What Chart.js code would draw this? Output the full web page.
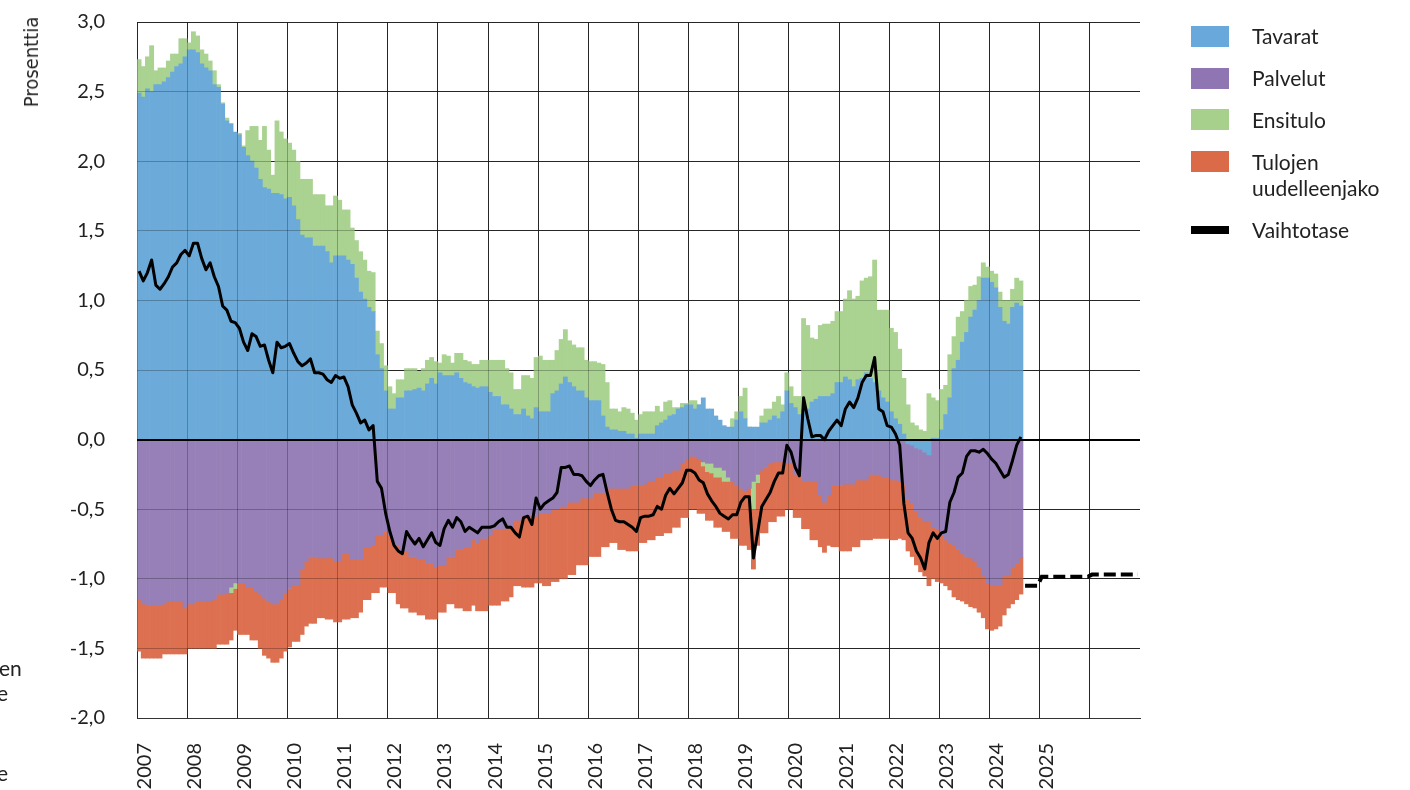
<!DOCTYPE html>
<html><head><meta charset="utf-8">
<script src="https://cdn.jsdelivr.net/npm/chart.js@4.4.0/dist/chart.umd.min.js"></script>
<style>
html,body{margin:0;padding:0;background:#fff;}
#wrap{position:relative;width:1410px;height:790px;overflow:hidden;font-family:Lato,"Noto Sans",sans-serif;color:#222;}
#c{position:absolute;left:0;top:0;}
.sw{position:absolute;left:1191px;width:38px;height:21px;}
.lt{position:absolute;left:1252px;font-size:21px;line-height:26px;white-space:nowrap;}
.frag{position:absolute;font-size:21px;line-height:26px;white-space:nowrap;}
#ytitle{position:absolute;left:31px;top:62px;transform:translate(-50%,-50%) rotate(-90deg);font-family:"Liberation Sans Narrow","DejaVu Sans Condensed",sans-serif;font-size:20px;white-space:nowrap;color:#222;}
</style></head>
<body><div id="wrap">
<canvas id="c" width="1410" height="790"></canvas>
<div id="ytitle">Prosenttia</div>
<div class="frag" style="left:-1px;top:655px;">en</div>
<div class="frag" style="left:-3px;top:680px;">e</div>
<div class="frag" style="left:-3px;top:760px;">e</div>
<div class="sw" style="top:26px;background:#68a8da"></div><div class="lt" style="top:23px">Tavarat</div>
<div class="sw" style="top:68px;background:#8f75b2"></div><div class="lt" style="top:65px">Palvelut</div>
<div class="sw" style="top:109px;background:#a6d08c"></div><div class="lt" style="top:107px">Ensitulo</div>
<div class="sw" style="top:151px;background:#da6a48"></div><div class="lt" style="top:149px">Tulojen<br>uudelleenjako</div>
<div class="sw" style="top:226px;height:8px;background:#000"></div><div class="lt" style="top:217px">Vaihtotase</div>
</div>
<script>
// ---- data (monthly, 2007-01 .. 2024-08) ----
const yearLabels = ['2007','2008','2009','2010','2011','2012','2013','2014','2015','2016','2017','2018','2019','2020','2021','2022','2023','2024','2025'];

const tavarat = [
 2.49,2.46,2.52,2.50,2.55,2.55,2.57,2.60,2.64,2.68,2.70,2.75,
 2.80,2.80,2.78,2.70,2.67,2.65,2.55,2.53,2.41,2.29,2.27,2.21,
 2.19,2.10,2.04,2.00,1.95,1.87,1.81,1.80,1.77,1.77,1.76,1.73,
 1.74,1.68,1.58,1.47,1.45,1.45,1.39,1.39,1.39,1.35,1.27,1.32,
 1.32,1.32,1.29,1.26,1.16,1.06,1.01,0.95,0.92,0.61,0.51,0.35,
 0.22,0.22,0.30,0.30,0.35,0.35,0.36,0.37,0.35,0.40,0.44,0.40,
 0.48,0.46,0.46,0.46,0.48,0.44,0.41,0.40,0.38,0.37,0.38,0.38,
 0.34,0.31,0.31,0.25,0.25,0.22,0.18,0.18,0.22,0.17,0.15,0.23,
 0.20,0.20,0.20,0.33,0.35,0.40,0.45,0.41,0.38,0.35,0.35,0.30,
 0.28,0.28,0.28,0.17,0.09,0.07,0.07,0.06,0.06,0.04,0.04,0.01,
 0.04,0.04,0.04,0.04,0.10,0.12,0.14,0.17,0.18,0.22,0.23,0.25,
 0.25,0.22,0.25,0.30,0.22,0.22,0.17,0.14,0.10,0.09,0.09,0.14,
 0.20,0.15,0.09,0.09,0.09,0.12,0.12,0.14,0.17,0.15,0.20,0.35,
 0.26,0.23,0.18,0.22,0.22,0.27,0.29,0.31,0.31,0.31,0.33,0.41,
 0.41,0.45,0.43,0.38,0.43,0.44,0.48,0.44,0.41,0.35,0.30,0.27,
 0.20,0.15,0.11,0.04,-0.03,-0.04,-0.06,-0.07,-0.09,-0.11,0.01,0.01,
 0.07,0.18,0.30,0.51,0.57,0.70,0.77,0.88,0.93,1.00,1.16,1.16,
 1.13,1.09,0.95,0.85,0.83,0.95,0.98,0.96
];
const palvelut = [
 -1.15,-1.18,-1.19,-1.19,-1.19,-1.19,-1.18,-1.16,-1.16,-1.16,-1.16,-1.21,
 -1.18,-1.18,-1.16,-1.16,-1.16,-1.16,-1.15,-1.11,-1.11,-1.10,-1.06,-1.03,
 -1.03,-1.03,-1.06,-1.06,-1.09,-1.11,-1.14,-1.16,-1.18,-1.18,-1.15,-1.10,
 -1.07,-1.05,-1.05,-0.93,-0.87,-0.84,-0.84,-0.85,-0.85,-0.85,-0.85,-0.87,
 -0.87,-0.82,-0.82,-0.86,-0.86,-0.86,-0.77,-0.77,-0.76,-0.69,-0.69,-0.66,
 -0.69,-0.74,-0.76,-0.80,-0.80,-0.84,-0.84,-0.86,-0.86,-0.89,-0.89,-0.92,
 -0.90,-0.90,-0.84,-0.84,-0.79,-0.79,-0.77,-0.77,-0.72,-0.74,-0.71,-0.71,
 -0.69,-0.64,-0.64,-0.64,-0.63,-0.63,-0.58,-0.58,-0.55,-0.55,-0.55,-0.55,
 -0.53,-0.53,-0.53,-0.50,-0.50,-0.48,-0.48,-0.45,-0.45,-0.45,-0.42,-0.42,
 -0.42,-0.38,-0.38,-0.38,-0.35,-0.35,-0.35,-0.35,-0.35,-0.35,-0.33,-0.33,
 -0.33,-0.32,-0.30,-0.30,-0.27,-0.27,-0.24,-0.24,-0.22,-0.22,-0.17,-0.14,
 -0.12,-0.12,-0.14,-0.16,-0.17,-0.17,-0.20,-0.20,-0.22,-0.27,-0.30,-0.33,
 -0.35,-0.37,-0.35,-0.30,-0.25,-0.22,-0.20,-0.17,-0.16,-0.16,-0.16,-0.17,
 -0.17,-0.25,-0.25,-0.30,-0.30,-0.30,-0.30,-0.40,-0.45,-0.40,-0.33,-0.33,
 -0.33,-0.32,-0.32,-0.32,-0.29,-0.29,-0.29,-0.25,-0.25,-0.25,-0.27,-0.27,
 -0.29,-0.29,-0.30,-0.32,-0.40,-0.42,-0.45,-0.49,-0.50,-0.48,-0.63,-0.64,
 -0.69,-0.72,-0.74,-0.76,-0.79,-0.82,-0.84,-0.85,-0.87,-0.92,-0.98,-1.03,
 -1.05,-1.05,-1.05,-0.98,-0.97,-0.92,-0.89,-0.85
];
const ensitulo = [
 0.24,0.22,0.23,0.33,0.10,0.12,0.10,0.12,0.13,0.09,0.18,0.13,
 0.05,0.13,0.12,0.10,0.10,0.07,0.10,0.02,0.01,0.02,-0.04,-0.04,
 0.01,0.01,0.18,0.25,0.30,0.28,0.44,0.28,0.13,0.52,0.45,0.43,
 0.39,0.40,0.42,0.40,0.42,0.42,0.37,0.37,0.37,0.33,0.41,0.43,
 0.40,0.33,0.36,0.26,0.27,0.29,0.28,0.26,0.28,0.17,0.18,0.18,
 0.16,0.11,0.13,0.13,0.16,0.16,0.15,0.12,0.16,0.17,0.15,0.16,
 0.07,0.15,0.14,0.09,0.14,0.18,0.16,0.16,0.16,0.17,0.19,0.19,
 0.23,0.26,0.26,0.32,0.26,0.26,0.18,0.18,0.24,0.29,0.29,0.36,
 0.40,0.37,0.37,0.24,0.29,0.32,0.34,0.30,0.30,0.31,0.31,0.27,
 0.28,0.28,0.27,0.37,0.32,0.15,0.15,0.14,0.17,0.18,0.15,0.13,
 0.14,0.16,0.16,0.16,0.14,0.08,0.13,0.11,0.05,0.01,0.03,0.01,
 0.03,0.06,0.00,-0.03,-0.06,-0.07,-0.07,-0.07,-0.08,-0.03,0.06,0.06,
 0.11,0.22,0.00,-0.20,-0.06,0.05,0.10,0.08,0.10,0.16,0.05,0.13,
 0.12,0.08,0.13,0.65,0.60,0.46,0.43,0.51,0.52,0.52,0.52,0.51,
 0.51,0.56,0.64,0.63,0.60,0.70,0.68,0.73,0.88,0.58,0.63,0.66,
 0.60,0.62,0.54,0.40,0.25,0.12,0.10,0.07,0.06,0.33,0.29,0.27,
 0.29,0.21,0.31,0.23,0.31,0.22,0.23,0.22,0.18,0.17,0.11,0.08,
 0.08,0.10,0.11,0.15,0.17,0.13,0.18,0.18
];
const tulojenUudelleenjako = [
 -0.37,-0.39,-0.38,-0.38,-0.38,-0.38,-0.36,-0.38,-0.38,-0.38,-0.38,-0.33,
 -0.32,-0.32,-0.34,-0.34,-0.34,-0.34,-0.35,-0.36,-0.36,-0.37,-0.34,-0.30,
 -0.37,-0.37,-0.34,-0.38,-0.35,-0.39,-0.41,-0.41,-0.42,-0.42,-0.42,-0.42,
 -0.42,-0.40,-0.40,-0.47,-0.47,-0.48,-0.48,-0.43,-0.43,-0.44,-0.44,-0.44,
 -0.44,-0.47,-0.47,-0.42,-0.42,-0.38,-0.38,-0.38,-0.34,-0.41,-0.37,-0.40,
 -0.41,-0.36,-0.42,-0.41,-0.41,-0.40,-0.40,-0.40,-0.40,-0.40,-0.40,-0.37,
 -0.34,-0.34,-0.34,-0.34,-0.42,-0.42,-0.46,-0.46,-0.47,-0.49,-0.52,-0.52,
 -0.50,-0.55,-0.55,-0.52,-0.53,-0.50,-0.47,-0.47,-0.51,-0.51,-0.51,-0.48,
 -0.50,-0.52,-0.52,-0.52,-0.52,-0.52,-0.52,-0.52,-0.52,-0.45,-0.48,-0.48,
 -0.42,-0.46,-0.46,-0.39,-0.42,-0.39,-0.39,-0.44,-0.44,-0.45,-0.47,-0.47,
 -0.41,-0.42,-0.42,-0.42,-0.42,-0.42,-0.43,-0.43,-0.41,-0.41,-0.39,-0.42,
 -0.38,-0.38,-0.39,-0.34,-0.35,-0.34,-0.36,-0.36,-0.36,-0.36,-0.41,-0.38,
 -0.41,-0.39,-0.44,-0.43,-0.45,-0.45,-0.47,-0.42,-0.43,-0.39,-0.39,-0.33,
 -0.33,-0.31,-0.31,-0.34,-0.34,-0.42,-0.42,-0.37,-0.36,-0.36,-0.44,-0.44,
 -0.47,-0.48,-0.48,-0.45,-0.48,-0.43,-0.43,-0.47,-0.46,-0.46,-0.44,-0.44,
 -0.43,-0.43,-0.41,-0.40,-0.37,-0.38,-0.39,-0.39,-0.39,-0.46,-0.37,-0.38,
 -0.34,-0.33,-0.34,-0.37,-0.36,-0.34,-0.34,-0.35,-0.34,-0.32,-0.30,-0.33,
 -0.32,-0.31,-0.29,-0.28,-0.24,-0.26,-0.26,-0.26
];
const vaihtotase = [
 1.21,1.14,1.20,1.29,1.11,1.08,1.12,1.17,1.24,1.27,1.33,1.36,
 1.32,1.41,1.41,1.30,1.22,1.27,1.17,1.10,0.96,0.93,0.85,0.84,
 0.80,0.70,0.64,0.76,0.74,0.67,0.68,0.57,0.48,0.70,0.66,0.67,
 0.69,0.62,0.56,0.53,0.55,0.58,0.48,0.48,0.47,0.43,0.41,0.46,
 0.44,0.45,0.38,0.25,0.19,0.12,0.14,0.07,0.10,-0.30,-0.35,-0.53,
 -0.66,-0.76,-0.80,-0.82,-0.66,-0.71,-0.75,-0.71,-0.77,-0.72,-0.67,-0.74,
 -0.76,-0.64,-0.58,-0.63,-0.56,-0.59,-0.66,-0.63,-0.65,-0.67,-0.63,-0.63,
 -0.63,-0.62,-0.59,-0.57,-0.63,-0.63,-0.67,-0.70,-0.56,-0.55,-0.61,-0.42,
 -0.50,-0.46,-0.44,-0.42,-0.38,-0.20,-0.20,-0.19,-0.25,-0.25,-0.26,-0.30,
 -0.33,-0.29,-0.26,-0.25,-0.38,-0.50,-0.58,-0.59,-0.59,-0.61,-0.63,-0.66,
 -0.56,-0.55,-0.55,-0.54,-0.48,-0.50,-0.40,-0.35,-0.39,-0.35,-0.31,-0.22,
 -0.22,-0.24,-0.29,-0.31,-0.39,-0.44,-0.48,-0.53,-0.55,-0.57,-0.54,-0.54,
 -0.45,-0.41,-0.41,-0.85,-0.67,-0.48,-0.43,-0.38,-0.30,-0.24,-0.24,-0.04,
 -0.09,-0.20,-0.26,0.30,0.15,0.02,0.03,0.03,0.00,0.06,0.10,0.14,
 0.10,0.22,0.27,0.23,0.30,0.41,0.46,0.46,0.59,0.22,0.20,0.10,
 0.09,0.04,-0.04,-0.46,-0.67,-0.71,-0.80,-0.85,-0.93,-0.74,-0.67,-0.71,
 -0.67,-0.66,-0.45,-0.38,-0.27,-0.24,-0.12,-0.08,-0.08,-0.09,-0.07,-0.10,
 -0.14,-0.17,-0.22,-0.27,-0.25,-0.15,-0.04,0.02
];
// forecast of current account, 2024-09 .. 2026-12
const ennusteAlku = 212;
const vaihtotaseEnnuste = [
 -1.05,-1.05,-1.05,-1.05,
 -0.985,-0.985,-0.985,-0.985,-0.985,-0.985,-0.985,-0.985,-0.985,-0.985,-0.985,-0.985,
 -0.97,-0.97,-0.97,-0.97,-0.97,-0.97,-0.97,-0.97,-0.97,-0.97,-0.97,-0.97
];

// ---- month categories 2007-01 .. 2026-12 ----
const months = [];
for (let y = 2007; y <= 2026; y++) for (let m = 1; m <= 12; m++) months.push(y + '-' + String(m).padStart(2, '0'));
const forecastData = new Array(ennusteAlku).fill(null).concat(vaihtotaseEnnuste);

function align(p, w) { const h = Math.max(w / 2, 0.5); return Math.round(p - h) + h; }

const gridOverlay = {
  id: 'gridOverlay',
  afterDatasetDraw(chart, args) {
    if (args.index !== 0) return;
    const ctx = chart.ctx, a = chart.chartArea, x = chart.scales.x, y = chart.scales.y;
    ctx.save();
    ctx.beginPath(); ctx.rect(a.left, a.top, a.right - a.left, a.bottom - a.top); ctx.clip();
    ctx.strokeStyle = 'rgba(0,0,0,0.25)'; ctx.lineWidth = 1;
    ctx.beginPath();
    y.ticks.forEach(t => { if (t.value === 0) return; const py = align(y.getPixelForValue(t.value), 1); ctx.moveTo(a.left, py); ctx.lineTo(a.right, py); });
    for (let i = 0; i <= months.length; i += 12) { const px = align(x.getPixelForValue(i - 0.5), 1); ctx.moveTo(px, a.top); ctx.lineTo(px, a.bottom); }
    ctx.stroke();
    ctx.strokeStyle = '#000'; ctx.lineWidth = 2;
    ctx.beginPath(); const z = align(y.getPixelForValue(0), 2); ctx.moveTo(a.left, z); ctx.lineTo(a.right, z); ctx.stroke();
    ctx.restore();
  }
};

const FONT = 'Lato, "Noto Sans", sans-serif';
new Chart(document.getElementById('c'), {
  type: 'bar',
  data: {
    labels: months,
    datasets: [
      { label: 'Tavarat', data: tavarat, backgroundColor: '#6cabd9', order: 1 },
      { label: 'Palvelut', data: palvelut, backgroundColor: '#9780b7', order: 1 },
      { label: 'Ensitulo', data: ensitulo, backgroundColor: '#aad291', order: 1 },
      { label: 'Tulojen uudelleenjako', data: tulojenUudelleenjako, backgroundColor: '#dc7050', order: 1 },
      { type: 'line', label: 'Vaihtotase', data: vaihtotase, borderColor: '#000', borderWidth: 3, pointRadius: 0, tension: 0, order: 0, stack: 'l1', borderJoinStyle: 'round' },
      { type: 'line', label: 'Ennuste', data: forecastData, borderColor: '#000', borderWidth: 4, borderDash: [12, 5], pointRadius: 0, tension: 0, order: 0, stack: 'l2' }
    ]
  },
  options: {
    responsive: false, animation: false,
    layout: { padding: { left: 0, right: 270, top: 22, bottom: 0 } },
    datasets: { bar: { barPercentage: 1, categoryPercentage: 1, borderWidth: 0 } },
    plugins: { legend: { display: false }, tooltip: { enabled: false } },
    scales: {
      x: {
        stacked: true,
        afterFit: s => { s.height = 72; },
        grid: { drawTicks: false, color: c => (c.index % 12 === 0 ? '#333' : 'rgba(0,0,0,0)'), lineWidth: 1 },
        border: { display: true, color: '#333', width: 1 },
        ticks: {
          autoSkip: false, maxRotation: 90, minRotation: 90, padding: 25, labelOffset: 5,
          color: '#222', font: { family: FONT, size: 20 },
          callback: (v, i) => (i % 12 === 0 && yearLabels[i / 12]) ? yearLabels[i / 12] : ''
        }
      },
      y: {
        stacked: true, min: -2, max: 3,
        afterFit: s => { s.width = 137; },
        grid: { drawTicks: true, tickLength: 32, tickColor: 'rgba(0,0,0,0)',
          color: c => (c.tick && c.tick.value === 0 ? '#000' : '#333'), lineWidth: c => (c.tick && c.tick.value === 0 ? 2 : 1) },
        border: { display: true, color: '#333', width: 1 },
        ticks: { stepSize: 0.5, padding: 0, color: '#222', font: { family: FONT, size: 20 },
          callback: v => v.toFixed(1).replace('.', ',') }
      }
    }
  },
  plugins: [gridOverlay]
});
</script>
</body></html>
